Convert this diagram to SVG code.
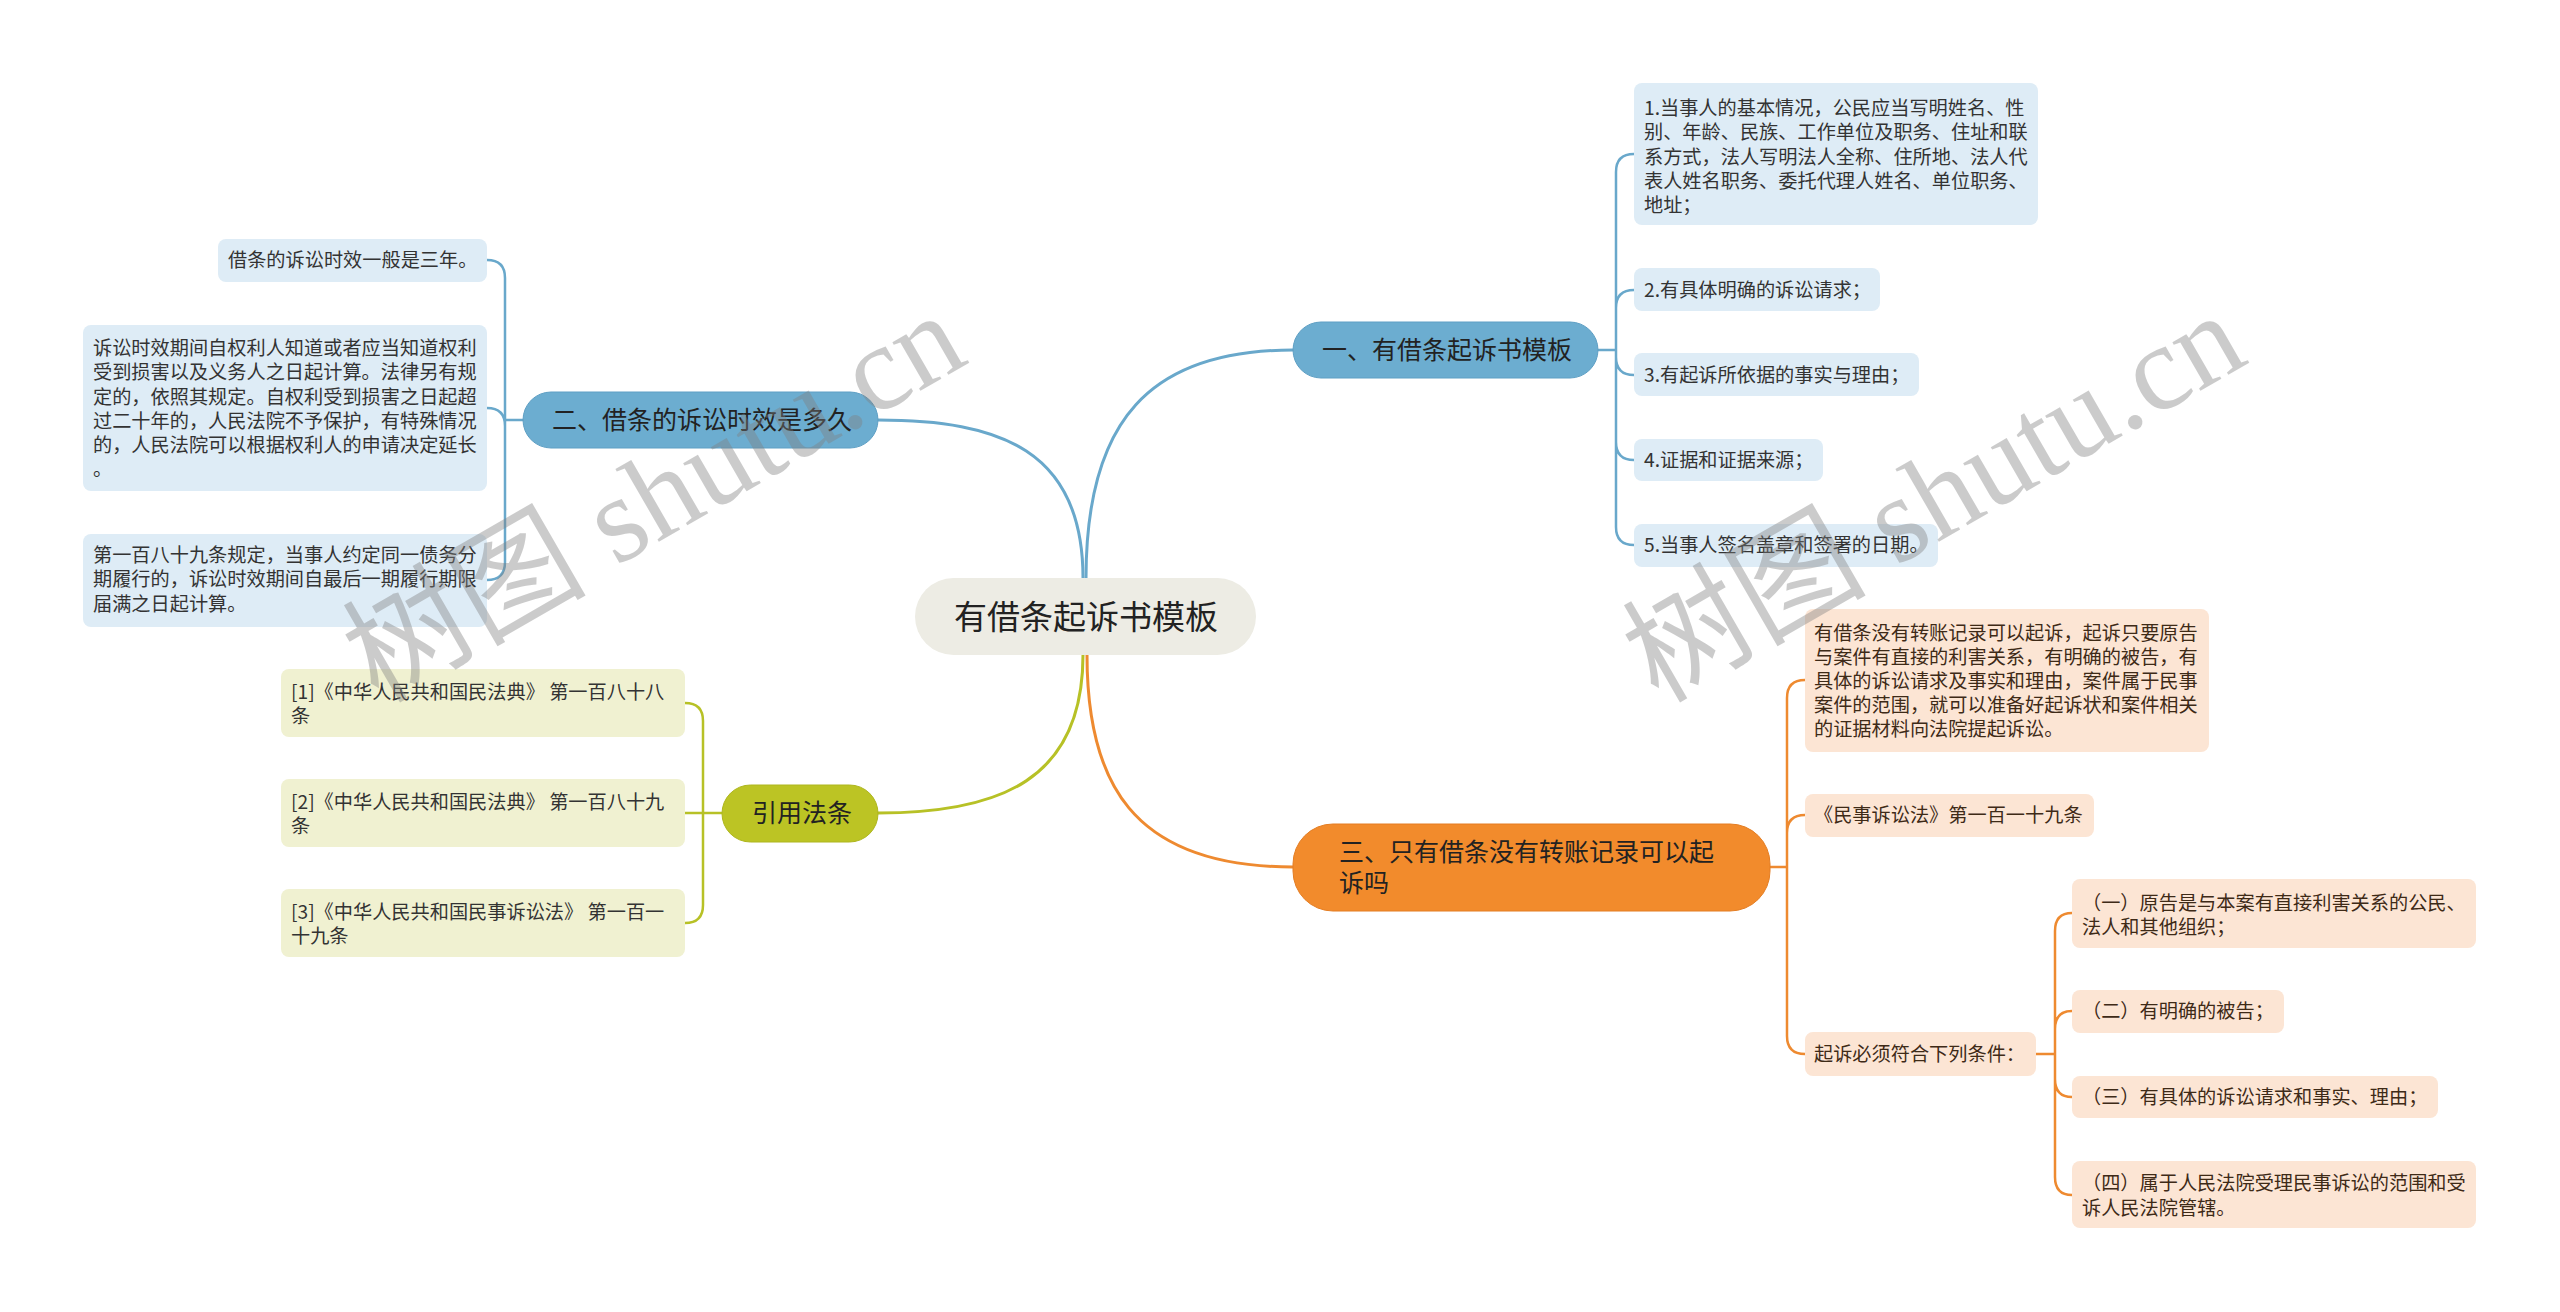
<svg xmlns="http://www.w3.org/2000/svg" width="2560" height="1312" viewBox="0 0 2560 1312">
<style>
text{font-family:"Noto Sans CJK SC","Noto Sans",sans-serif;}
.root{fill:#EDECE4;}
.rt{font-size:33px;fill:#222;}
.mb{fill:#6CADD0;stroke:#5E9FC4;stroke-width:1;}
.mo{fill:#F28B2C;stroke:#E47D22;stroke-width:1;}
.mg{fill:#BCC424;stroke:#AEB61E;stroke-width:1;}
.mt{font-size:25px;fill:#222;}
.lb{fill:#DEECF6;}
.lo{fill:#FCE5D4;}
.lg{fill:#F0F1D1;}
.lt{font-size:19.2px;fill:#333;}
.lto{font-size:19.2px;fill:#3E2A17;}
.c{fill:none;stroke-linecap:round;}
.cb{stroke:#69A8CB;}
.co{stroke:#EE8A30;}
.cg{stroke:#B7C126;}
.w3{stroke-width:3;}
.w2{stroke-width:2.5;}
.wm{font-family:"Liberation Serif","Noto Sans CJK SC",serif;font-size:122px;fill:#808080;opacity:0.4;}
</style>
<rect width="2560" height="1312" fill="#FFFFFF"/>
<g id="connectors">
  <path class="c cb w3" d="M1086,578 C1086,420 1150,350 1293,350"/>
  <path class="c cb w3" d="M1083,578 C1083,450 1000,420 878,420"/>
  <path class="c cg w3" d="M1083,655 C1083,780 1000,813 878,813"/>
  <path class="c co w3" d="M1087,655 C1087,780 1130,867 1293,867"/>
  <path class="c cb w2" d="M1598,350 H1616 M1616,350 V172 Q1616,154 1634,154 M1616,350 V308 Q1616,290 1634,290 M1616,350 V357 Q1616,375 1634,375 M1616,350 V442 Q1616,460 1634,460 M1616,350 V527 Q1616,545 1634,545"/>
  <path class="c cb w2" d="M523,420 H505 M505,420 V278 Q505,260 487,260 M505,420 V426 Q505,408 487,408 M505,420 V562 Q505,580 487,580"/>
  <path class="c cg w2" d="M722,813 H703 M703,813 V721 Q703,703 685,703 M703,813 H685 M703,813 V905 Q703,923 685,923"/>
  <path class="c co w2" d="M1770,867 H1787 M1787,867 V698 Q1787,680 1805,680 M1787,867 V833 Q1787,815 1805,815 M1787,867 V1036 Q1787,1054 1805,1054"/>
  <path class="c co w2" d="M2036,1054 H2055 M2055,1054 V931 Q2055,913 2072,913 M2055,1054 V1029 Q2055,1011 2072,1011 M2055,1054 V1079 Q2055,1097 2072,1097 M2055,1054 V1177 Q2055,1195 2072,1195"/>
</g>
<g id="root">
  <rect class="root" x="915" y="578" width="341" height="77" rx="38.5"/>
  <text class="rt" x="1086" y="629" text-anchor="middle">有借条起诉书模板</text>
</g>
<g id="main1">
  <rect class="mb" x="1293" y="322" width="305" height="56" rx="28"/>
  <text class="mt" x="1322" y="359">一、有借条起诉书模板</text>
</g>
<g id="main2">
  <rect class="mb" x="523" y="392" width="355" height="56" rx="28"/>
  <text class="mt" x="552" y="429">二、借条的诉讼时效是多久</text>
</g>
<g id="main3">
  <rect class="mo" x="1293" y="824" width="477" height="87" rx="40"/>
  <text class="mt" x="1339" y="861">三、只有借条没有转账记录可以起</text>
  <text class="mt" x="1339" y="892">诉吗</text>
</g>
<g id="main4">
  <rect class="mg" x="722" y="785" width="156" height="57" rx="28.5"/>
  <text class="mt" x="752" y="822">引用法条</text>
</g>
<g id="leaf1-1">
  <rect class="lb" x="1634" y="83" width="404" height="142" rx="8"/>
  <text class="lt" x="1644" y="115">1.当事人的基本情况，公民应当写明姓名、性</text>
  <text class="lt" x="1644" y="139">别、年龄、民族、工作单位及职务、住址和联</text>
  <text class="lt" x="1644" y="163.5">系方式，法人写明法人全称、住所地、法人代</text>
  <text class="lt" x="1644" y="188">表人姓名职务、委托代理人姓名、单位职务、</text>
  <text class="lt" x="1644" y="212">地址；</text>
</g>
<g id="leaf1-2">
  <rect class="lb" x="1634" y="268" width="246" height="43" rx="8"/>
  <text class="lt" x="1644" y="297">2.有具体明确的诉讼请求；</text>
</g>
<g id="leaf1-3">
  <rect class="lb" x="1634" y="353" width="285" height="43" rx="8"/>
  <text class="lt" x="1644" y="382">3.有起诉所依据的事实与理由；</text>
</g>
<g id="leaf1-4">
  <rect class="lb" x="1634" y="439" width="189" height="42" rx="8"/>
  <text class="lt" x="1644" y="467">4.证据和证据来源；</text>
</g>
<g id="leaf1-5">
  <rect class="lb" x="1634" y="524" width="304" height="43" rx="8"/>
  <text class="lt" x="1644" y="552">5.当事人签名盖章和签署的日期。</text>
</g>
<g id="leaf2-1">
  <rect class="lb" x="218" y="239" width="269" height="43" rx="8"/>
  <text class="lt" x="228" y="267">借条的诉讼时效一般是三年。</text>
</g>
<g id="leaf2-2">
  <rect class="lb" x="83" y="325" width="404" height="166" rx="8"/>
  <text class="lt" x="93" y="355">诉讼时效期间自权利人知道或者应当知道权利</text>
  <text class="lt" x="93" y="379">受到损害以及义务人之日起计算。法律另有规</text>
  <text class="lt" x="93" y="404">定的，依照其规定。自权利受到损害之日起超</text>
  <text class="lt" x="93" y="428">过二十年的，人民法院不予保护，有特殊情况</text>
  <text class="lt" x="93" y="452">的，人民法院可以根据权利人的申请决定延长</text>
  <text class="lt" x="93" y="476">。</text>
</g>
<g id="leaf2-3">
  <rect class="lb" x="83" y="534" width="404" height="93" rx="8"/>
  <text class="lt" x="93" y="562">第一百八十九条规定，当事人约定同一债务分</text>
  <text class="lt" x="93" y="586">期履行的，诉讼时效期间自最后一期履行期限</text>
  <text class="lt" x="93" y="611">届满之日起计算。</text>
</g>
<g id="leaf4-1">
  <rect class="lg" x="281" y="669" width="404" height="68" rx="8"/>
  <text class="lt" x="291" y="699">[1]《中华人民共和国民法典》 第一百八十八</text>
  <text class="lt" x="291" y="723">条</text>
</g>
<g id="leaf4-2">
  <rect class="lg" x="281" y="779" width="404" height="68" rx="8"/>
  <text class="lt" x="291" y="809">[2]《中华人民共和国民法典》 第一百八十九</text>
  <text class="lt" x="291" y="833">条</text>
</g>
<g id="leaf4-3">
  <rect class="lg" x="281" y="889" width="404" height="68" rx="8"/>
  <text class="lt" x="291" y="919">[3]《中华人民共和国民事诉讼法》 第一百一</text>
  <text class="lt" x="291" y="943">十九条</text>
</g>
<g id="leaf3-1">
  <rect class="lo" x="1805" y="609" width="404" height="143" rx="8"/>
  <text class="lto" x="1814" y="640">有借条没有转账记录可以起诉，起诉只要原告</text>
  <text class="lto" x="1814" y="664">与案件有直接的利害关系，有明确的被告，有</text>
  <text class="lto" x="1814" y="688">具体的诉讼请求及事实和理由，案件属于民事</text>
  <text class="lto" x="1814" y="712">案件的范围，就可以准备好起诉状和案件相关</text>
  <text class="lto" x="1814" y="736">的证据材料向法院提起诉讼。</text>
</g>
<g id="leaf3-2">
  <rect class="lo" x="1805" y="794" width="289" height="43" rx="8"/>
  <text class="lto" x="1814" y="822">《民事诉讼法》第一百一十九条</text>
</g>
<g id="leaf3-3">
  <rect class="lo" x="1805" y="1032" width="231" height="44" rx="8"/>
  <text class="lto" x="1814" y="1061">起诉必须符合下列条件：</text>
</g>
<g id="leaf3-3-1">
  <rect class="lo" x="2072" y="879" width="404" height="69" rx="8"/>
  <text class="lto" x="2082" y="910">（一）原告是与本案有直接利害关系的公民、</text>
  <text class="lto" x="2082" y="934">法人和其他组织；</text>
</g>
<g id="leaf3-3-2">
  <rect class="lo" x="2072" y="990" width="212" height="43" rx="8"/>
  <text class="lto" x="2082" y="1018">（二）有明确的被告；</text>
</g>
<g id="leaf3-3-3">
  <rect class="lo" x="2072" y="1076" width="366" height="42" rx="8"/>
  <text class="lto" x="2082" y="1104">（三）有具体的诉讼请求和事实、理由；</text>
</g>
<g id="leaf3-3-4">
  <rect class="lo" x="2072" y="1161" width="404" height="67" rx="8"/>
  <text class="lto" x="2082" y="1190">（四）属于人民法院受理民事诉讼的范围和受</text>
  <text class="lto" x="2082" y="1215">诉人民法院管辖。</text>
</g>
<g id="watermarks">
  <text class="wm" transform="translate(378,704) rotate(-30)">树图 shutu.cn</text>
  <text class="wm" transform="translate(1658,704) rotate(-30)">树图 shutu.cn</text>
</g>
</svg>
